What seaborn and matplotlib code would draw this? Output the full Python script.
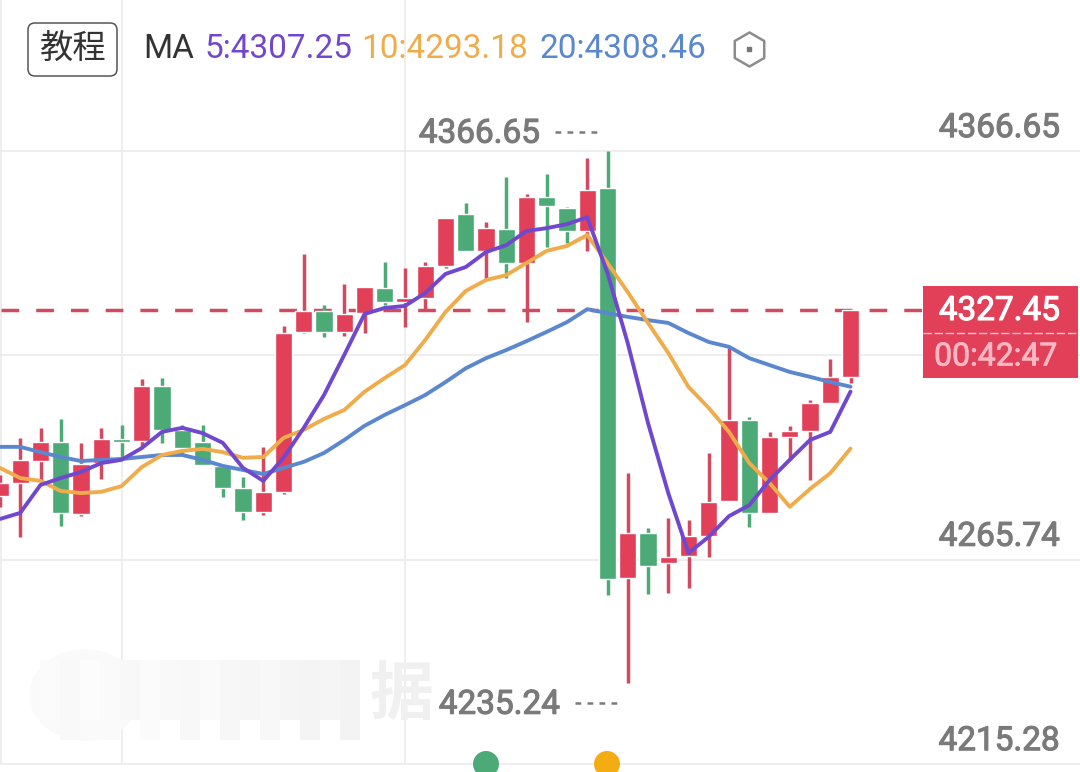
import matplotlib
matplotlib.use('Agg')
import matplotlib.pyplot as plt
import matplotlib.patheffects as pe
from matplotlib.patches import FancyBboxPatch, Rectangle, Ellipse
import pandas as pd
import seaborn as sns

# OHLC values, oldest candle first
highs = [4286.6, 4295.8, 4298.3, 4300.5, 4294.6, 4298.3, 4299.0, 4310.4, 4310.6, 4299.0, 4299.0,
         4288.9, 4286.2, 4293.6, 4323.4, 4341.2, 4328.6, 4333.8, 4333.1, 4339.2, 4337.8, 4339.2,
         4350.1, 4353.8, 4349.1, 4360.2, 4356.0, 4361.0, 4352.8, 4364.9, 4366.65, 4287.1, 4273.6,
         4276.0, 4275.5, 4292.1, 4318.3, 4301.0, 4297.3, 4298.8, 4305.2, 4315.3, 4327.45]
lows = [4278.8, 4271.4, 4284.7, 4274.1, 4276.5, 4285.7, 4290.4, 4293.6, 4294.6, 4292.1, 4289.1,
        4281.2, 4275.5, 4276.8, 4282.0, 4321.7, 4320.7, 4321.0, 4321.7, 4328.6, 4323.2, 4327.6,
        4337.8, 4342.0, 4335.0, 4335.3, 4324.4, 4343.0, 4343.9, 4342.0, 4257.0, 4235.24, 4257.3,
        4257.5, 4258.8, 4266.4, 4280.2, 4273.8, 4277.3, 4290.4, 4285.4, 4304.4, 4309.4]
opens = [4281.5, 4284.7, 4290.1, 4294.8, 4277.0, 4289.6, 4295.5, 4295.1, 4308.6, 4297.8, 4294.8,
         4288.9, 4283.4, 4277.5, 4282.5, 4322.0, 4327.1, 4322.0, 4326.6, 4332.8, 4329.4, 4330.4,
         4338.3, 4351.1, 4342.0, 4347.4, 4339.0, 4355.3, 4352.6, 4346.9, 4357.5, 4261.2, 4272.3,
         4264.9, 4266.7, 4271.6, 4280.2, 4300.2, 4277.3, 4296.0, 4297.5, 4304.4, 4310.9]
closes = [4284.7, 4290.4, 4294.8, 4277.3, 4289.4, 4295.5, 4294.8, 4308.6, 4297.8, 4293.3, 4289.1,
          4283.4, 4277.5, 4282.5, 4321.7, 4327.1, 4322.0, 4326.4, 4333.1, 4329.4, 4330.4, 4338.3,
          4350.1, 4342.0, 4347.6, 4339.0, 4355.3, 4353.1, 4346.9, 4357.0, 4261.0, 4272.3, 4264.2,
          4266.4, 4271.6, 4280.0, 4300.2, 4277.3, 4296.0, 4297.5, 4304.4, 4310.9, 4327.45]

ma5 = [4275.8, 4277.3, 4284.2, 4285.9, 4287.4, 4289.6, 4290.4, 4293.3, 4297.3, 4298.3, 4297.0,
       4294.6, 4288.4, 4285.2, 4290.9, 4298.3, 4306.4, 4316.3, 4326.4, 4327.9, 4328.4, 4331.6,
       4336.3, 4338.0, 4341.7, 4343.4, 4346.9, 4347.6, 4348.6, 4350.3, 4336.5, 4319.2, 4299.5,
       4282.2, 4267.4, 4271.4, 4276.5, 4279.2, 4285.4, 4290.4, 4295.3, 4297.3, 4307.25]
ma10 = [4288.4, 4285.9, 4285.2, 4282.7, 4282.2, 4282.5, 4283.9, 4288.6, 4291.6, 4292.6, 4293.1,
        4292.3, 4290.9, 4291.1, 4295.8, 4297.8, 4300.5, 4302.7, 4307.2, 4310.6, 4313.8, 4320.0,
        4326.9, 4332.1, 4334.8, 4336.0, 4339.0, 4342.0, 4343.2, 4345.9, 4339.0, 4331.8, 4324.2,
        4316.8, 4308.4, 4303.2, 4297.3, 4289.6, 4284.7, 4278.8, 4283.2, 4287.1, 4293.18]
ma20 = [4293.6, 4293.6, 4292.3, 4291.1, 4290.1, 4290.4, 4290.6, 4291.1, 4291.6, 4291.6, 4290.4,
        4288.9, 4287.9, 4286.9, 4288.4, 4289.9, 4292.1, 4295.3, 4298.8, 4301.5, 4303.9, 4306.4,
        4309.6, 4313.0, 4315.5, 4317.5, 4319.7, 4322.0, 4324.4, 4327.6, 4326.6, 4325.7, 4324.9,
        4324.2, 4321.7, 4319.5, 4318.3, 4315.5, 4313.8, 4312.1, 4310.9, 4309.6, 4308.46]

price_ticks = [4366.65, 4316.2, 4265.74, 4215.28]
price_labels = ['4366.65', '', '4265.74', '4215.28']
time_ticks = [6, 20]
last_price = 4327.45
max_price = 4366.65
min_price = 4235.24

RED = '#E23F58'
RED_WICK = '#D24A60'
GREEN = '#4BAA76'
PURPLE = '#7048D0'
ORANGE = '#F0AC4A'
BLUE = '#5B87CF'
GRID = '#EBEBEB'
GREY = '#7A7A7A'
PRICE_SIZE = 24

sns.set_theme(style='white')
plt.rcParams['font.family'] = ['Roboto', 'Noto Sans CJK SC', 'DejaVu Sans']

candles = pd.DataFrame({'high': highs, 'low': lows, 'open': opens, 'close': closes})
candles['i'] = candles.index
candles['color'] = [RED if c >= o else GREEN for o, c in zip(opens, closes)]
candles['wick'] = [RED_WICK if c >= o else GREEN for o, c in zip(opens, closes)]

fig = plt.figure(figsize=(10.8, 7.72), dpi=100, facecolor='white')
ax = fig.add_axes([0, 0, 1, 1])
ax.set_xlim(0, 1080 / 20.25)
ax.set_ylim(4366.65 - 621 * 0.2469, 4366.65 + 151 * 0.2469)
sns.despine(ax=ax, left=True, bottom=True, top=True, right=True)
ax.set_xticks([])
ax.set_yticks([])

# grid
ax.hlines(price_ticks, 0, 1080 / 20.25, color=GRID, lw=1.2, zorder=1)
ax.vlines(time_ticks + [0.04], price_ticks[-1], ax.get_ylim()[1], color=GRID, lw=1.2, zorder=1)

# last price line
ax.hlines(last_price, 0.05, 923 / 20.25, color=RED_WICK, lw=2.5, linestyles=[(0, (5.1, 4.9))], zorder=2)

# candles
ax.vlines(candles['i'], candles['low'], candles['high'], colors=candles['wick'], lw=2.5, zorder=3)
ax.bar(candles['i'], (candles['close'] - candles['open']).abs().clip(lower=0.6),
       bottom=candles[['open', 'close']].min(axis=1), width=0.84, color=candles['color'], zorder=4)

# moving averages
ma = pd.DataFrame({'i': candles['i'], 'MA20': ma20, 'MA10': ma10, 'MA5': ma5})
ma_long = ma.melt(id_vars='i', var_name='line', value_name='price')
sns.lineplot(data=ma_long, x='i', y='price', hue='line', hue_order=['MA20', 'MA10', 'MA5'],
             palette=[BLUE, ORANGE, PURPLE], lw=2.8, legend=False, ax=ax, zorder=5, sort=False)
ax.set_xlabel('')
ax.set_ylabel('')

# screen furniture drawn in pixel coordinates
ui = fig.add_axes([0, 0, 1, 1], zorder=10)
ui.set_xlim(0, 1080)
ui.set_ylim(772, 0)
ui.axis('off')
ui.patch.set_alpha(0)

# blurred watermark
mosaic_shades = ['#FBFBFB', '#F9F9F9', '#FCFCFC', '#FAFAFA', '#F8F8F8', '#FBFBFB', '#F9F9F9', '#F8F8F8',
                 '#FAFAFA', '#F7F7F7', '#F6F6F6', '#F8F8F8', '#F5F5F5', '#F4F4F4', '#F5F5F5', '#F3F3F3']
ui.add_patch(Ellipse((85, 695), 110, 90, color='#FAFAFA', zorder=1))
for n, shade in enumerate(mosaic_shades):
    ui.add_patch(Rectangle((40 + n * 20, 660), 20, 60 + (n % 2) * 20, color=shade, lw=0, zorder=1))
ui.text(402, 695, '据', ha='center', va='center', fontsize=46, color='#F0F0F0',
        family=['Noto Sans CJK SC'], fontweight='bold', zorder=2)

# header
ui.add_patch(FancyBboxPatch((28, 23), 89, 53, boxstyle='round,pad=0,rounding_size=7',
                            fc='white', ec='#555555', lw=1.1))
ui.text(73, 49.5, '教程', ha='center', va='center', fontsize=24, color='#333333',
        family=['Noto Sans CJK SC'])
for x0, s, col in [(143.5, 'MA', '#333333'), (204.5, '5:4307.25', PURPLE),
                   (361.5, '10:4293.18', ORANGE), (539.5, '20:4308.46', BLUE)]:
    ui.text(x0, 49.5, s, ha='left', va='center', fontsize=24, color=col, family=['Roboto'])
ui.scatter([749], [49], marker='h', s=600, facecolor='white', edgecolor='#8C8C8C', lw=1.8)
ui.scatter([749], [49], marker='s', s=9, color='#777777')

# axis prices, on the chart's price scale
stroke = [pe.withStroke(linewidth=0.8, foreground=GREY)]
for p, lab in zip(price_ticks, price_labels):
    if lab:
        ax.annotate(lab, xy=(1060 / 20.25, p), xytext=(0, 16.5), textcoords='offset points',
                    ha='right', va='center', fontsize=PRICE_SIZE, color=GREY, family=['Roboto'],
                    path_effects=stroke, zorder=8, annotation_clip=False)

# high and low markers
ax.annotate(f'{max_price:.2f}', xy=(540 / 20.25, max_price), xytext=(0, 12.5), textcoords='offset points',
            ha='right', va='center', fontsize=PRICE_SIZE, color=GREY, family=['Roboto'], path_effects=stroke)
ax.annotate(f'{min_price:.2f}', xy=(560 / 20.25, min_price), xytext=(0, -15.5), textcoords='offset points',
            ha='right', va='center', fontsize=PRICE_SIZE, color=GREY, family=['Roboto'], path_effects=stroke)
ui.plot([555, 603], [132, 132], color=GREY, lw=1.8, ls=(0, (2.3, 2.5)))
ui.plot([575, 622], [703, 703], color=GREY, lw=1.8, ls=(0, (2.3, 2.5)))

# last price box
ui.add_patch(Rectangle((923, 286), 155, 92, color=RED, lw=0))
ui.plot([923, 1078], [333, 333], color='#F6C3CB', lw=1, ls=(0, (6, 2)))
ui.text(1060, 311, f'{last_price:.2f}', ha='right', va='center', fontsize=PRICE_SIZE, color='white',
        family=['Roboto'], path_effects=[pe.withStroke(linewidth=0.8, foreground='white')])
ui.text(1058, 357, '00:42:47', ha='right', va='center', fontsize=23, color='#F9B7C3', family=['Roboto'],
        path_effects=[pe.withStroke(linewidth=0.6, foreground='#F9B7C3')])

# bottom dots, cut off by the screen edge
ui.scatter([486, 607], [764, 764], s=350, color=[GREEN, '#F3AC12'], lw=0, clip_on=True)

fig.savefig('out.png', dpi=100)
